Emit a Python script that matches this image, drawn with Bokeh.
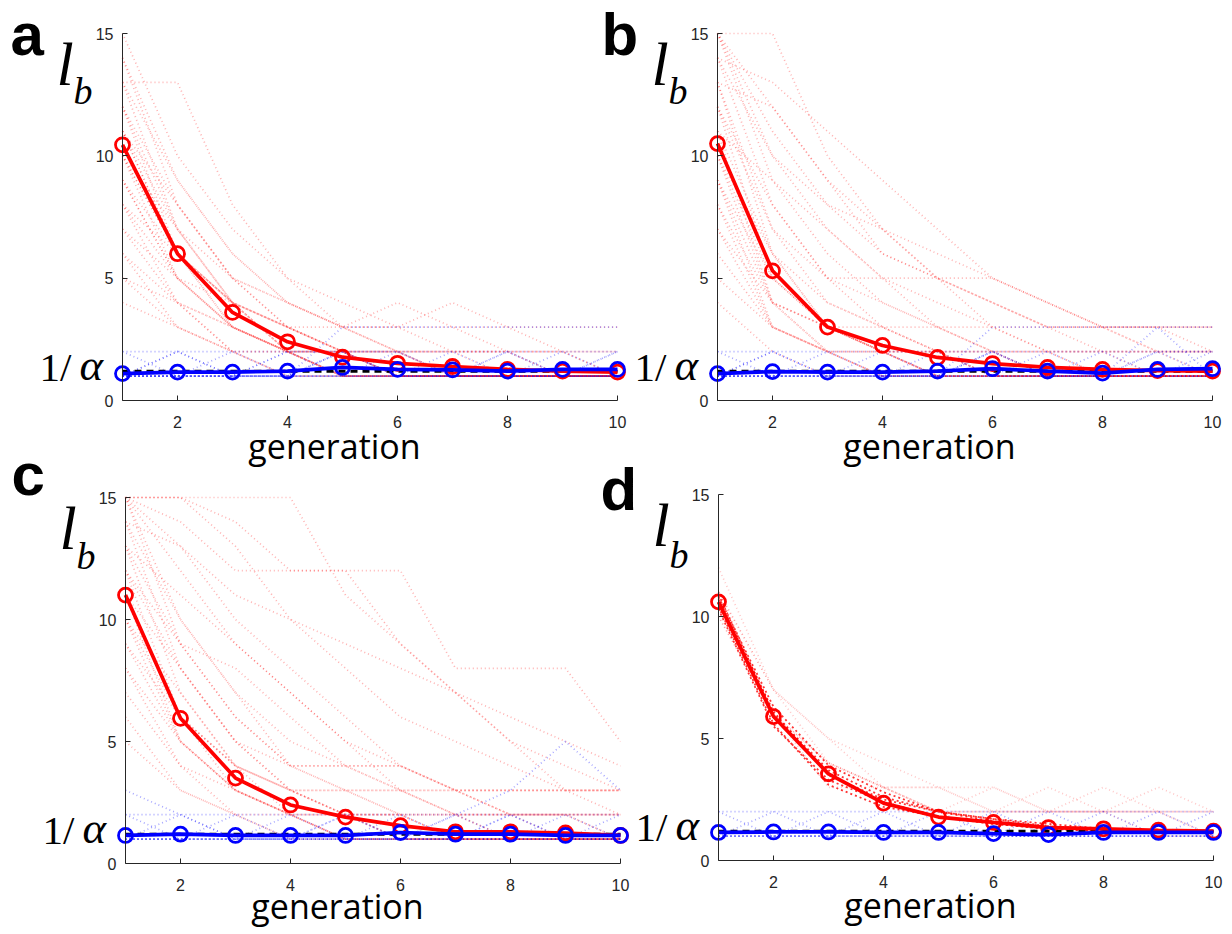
from bokeh.plotting import figure
from bokeh.models import Range1d, Label, FixedTicker, LinearAxis
from bokeh.embed import file_html
from bokeh.resources import INLINE

# ---------------- data ----------------
generations = [1, 2, 3, 4, 5, 6, 7, 8, 9, 10]
inv_alpha = 1.2
y_ticks = [0, 5, 10, 15]
x_ticks = [2, 4, 6, 8, 10]
panel_letters = ["a", "b", "c", "d"]
x_label = "generation"

mean_red_a = [10.45, 6.0, 3.6, 2.4, 1.77, 1.52, 1.39, 1.27, 1.2, 1.16]
mean_blue_a = [1.1, 1.16, 1.16, 1.2, 1.35, 1.27, 1.25, 1.2, 1.27, 1.27]
mean_red_b = [10.5, 5.3, 3.0, 2.25, 1.76, 1.51, 1.35, 1.27, 1.22, 1.2]
mean_blue_b = [1.1, 1.18, 1.16, 1.16, 1.2, 1.3, 1.2, 1.12, 1.27, 1.3]
mean_red_c = [11.0, 5.95, 3.5, 2.4, 1.9, 1.55, 1.3, 1.3, 1.25, 1.15]
mean_blue_c = [1.15, 1.2, 1.15, 1.15, 1.15, 1.27, 1.2, 1.2, 1.15, 1.15]
mean_red_d = [10.6, 5.9, 3.55, 2.35, 1.78, 1.56, 1.35, 1.3, 1.24, 1.2]
mean_blue_d = [1.15, 1.17, 1.17, 1.15, 1.15, 1.1, 1.06, 1.15, 1.15, 1.15]

runs_red_a = [
    [15, 10, 7, 5, 3, 2, 1, 1, 1, 1], [14, 9, 6, 4, 3, 2, 2, 1, 1, 1],
    [14, 8, 5, 3, 2, 1, 1, 1, 1, 1], [13, 13, 8, 5, 4, 3, 2, 2, 1, 1],
    [13, 7, 4, 3, 2, 2, 1, 1, 1, 1], [12, 8, 5, 3, 2, 1, 1, 1, 1, 1],
    [12, 6, 4, 2, 2, 1, 1, 1, 1, 1], [12, 7, 4, 3, 2, 2, 2, 2, 2, 1],
    [11, 7, 5, 4, 3, 4, 3, 2, 2, 1], [11, 6, 4, 2, 1, 1, 1, 1, 1, 1],
    [11, 6, 3, 2, 2, 1, 1, 1, 1, 1], [11, 8, 5, 4, 3, 3, 4, 3, 3, 3],
    [10, 6, 4, 2, 2, 1, 1, 1, 1, 1], [10, 5, 3, 2, 1, 1, 1, 1, 1, 1],
    [10, 7, 4, 3, 2, 2, 1, 1, 1, 1], [10, 6, 3, 2, 2, 2, 2, 2, 2, 2],
    [9, 6, 4, 3, 2, 1, 1, 1, 1, 1], [9, 5, 3, 2, 1, 1, 1, 1, 1, 1],
    [9, 5, 4, 3, 3, 3, 3, 3, 2, 2], [8, 5, 3, 2, 2, 1, 1, 1, 1, 1],
    [8, 4, 3, 2, 1, 1, 1, 1, 1, 1], [8, 6, 4, 2, 2, 2, 1, 1, 1, 1],
    [7, 5, 3, 2, 1, 1, 1, 1, 1, 1], [7, 4, 2, 2, 1, 1, 1, 1, 1, 1],
    [6, 4, 3, 2, 1, 1, 1, 1, 1, 1], [6, 3, 2, 1, 1, 1, 1, 1, 1, 1],
    [5, 4, 2, 2, 1, 1, 1, 1, 1, 1], [5, 3, 2, 1, 1, 1, 1, 1, 1, 1],
    [4, 3, 2, 1, 1, 1, 1, 1, 1, 1], [13, 9, 6, 4, 3, 2, 2, 2, 1, 1],
]
runs_blue_a = [
    [1, 1, 1, 1, 2, 1, 1, 1, 1, 1], [2, 2, 2, 2, 2, 2, 2, 2, 2, 2],
    [1, 2, 1, 1, 1, 2, 1, 1, 1, 1], [1, 1, 1, 2, 1, 1, 1, 2, 1, 2],
    [1, 1, 2, 1, 1, 1, 2, 1, 1, 1], [1, 1, 1, 1, 3, 3, 3, 3, 3, 3],
    [1, 1, 1, 1, 1, 1, 1, 1, 2, 1], [2, 1, 1, 1, 1, 1, 1, 1, 1, 1],
    [1, 1, 1, 1, 2, 2, 1, 1, 1, 1], [1, 2, 1, 1, 2, 1, 1, 2, 1, 1],
    [1, 1, 1, 2, 2, 1, 1, 1, 1, 2],
]
runs_red_b = [
    [15, 15, 10, 7, 5, 4, 3, 3, 2, 2], [15, 12, 9, 6, 5, 4, 3, 2, 2, 1],
    [15, 10, 7, 5, 3, 2, 2, 1, 1, 1], [15, 9, 6, 4, 3, 2, 1, 1, 1, 1],
    [14, 10, 8, 6, 5, 5, 4, 3, 3, 3], [14, 8, 5, 3, 2, 1, 1, 1, 1, 1],
    [13, 12, 9, 7, 5, 3, 2, 2, 1, 1], [13, 7, 4, 3, 2, 2, 1, 1, 1, 1],
    [13, 6, 3, 2, 1, 1, 1, 1, 1, 1], [12, 8, 5, 4, 3, 2, 2, 1, 1, 1],
    [12, 5, 3, 2, 2, 1, 1, 1, 1, 1], [12, 7, 5, 5, 5, 4, 3, 3, 3, 3],
    [11, 6, 3, 2, 1, 1, 1, 1, 1, 1], [11, 4, 3, 2, 2, 2, 1, 1, 1, 1],
    [11, 9, 7, 5, 4, 3, 2, 2, 2, 2], [10, 5, 3, 2, 1, 1, 1, 1, 1, 1],
    [10, 4, 3, 3, 3, 3, 3, 3, 3, 3], [10, 6, 4, 3, 2, 1, 1, 1, 1, 1],
    [9, 4, 2, 2, 1, 1, 1, 1, 1, 1], [9, 5, 3, 2, 2, 1, 1, 1, 1, 1],
    [9, 3, 2, 1, 1, 1, 1, 1, 1, 1], [8, 4, 3, 2, 1, 1, 1, 1, 1, 1],
    [8, 3, 2, 2, 2, 2, 2, 2, 2, 2], [7, 4, 2, 1, 1, 1, 1, 1, 1, 1],
    [7, 3, 2, 2, 1, 1, 1, 1, 1, 1], [6, 3, 2, 1, 1, 1, 1, 1, 1, 1],
    [5, 3, 2, 1, 1, 1, 1, 1, 1, 1], [4, 2, 1, 1, 1, 1, 1, 1, 1, 1],
    [15, 11, 8, 7, 6, 5, 4, 3, 3, 2], [14, 13, 11, 9, 7, 5, 4, 3, 2, 2],
]
runs_blue_b = [
    [1, 1, 1, 1, 1, 2, 1, 1, 1, 1], [2, 2, 2, 2, 2, 2, 2, 2, 2, 2],
    [1, 2, 1, 1, 1, 1, 2, 1, 1, 1], [1, 1, 1, 1, 2, 1, 1, 2, 1, 2],
    [1, 1, 2, 1, 1, 2, 1, 1, 2, 1], [1, 1, 1, 1, 1, 3, 3, 3, 3, 3],
    [2, 1, 1, 1, 1, 1, 1, 1, 1, 1], [1, 2, 1, 1, 1, 2, 1, 1, 1, 1],
    [1, 1, 1, 2, 1, 1, 1, 1, 2, 2], [1, 1, 1, 1, 1, 1, 1, 1, 3, 1],
]
runs_red_c = [
    [15, 15, 14, 12, 12, 12, 8, 8, 8, 5], [15, 15, 15, 15, 11, 9, 7, 5, 4, 3],
    [15, 14, 12, 12, 12, 9, 7, 5, 3, 2], [15, 12, 9, 7, 5, 4, 3, 3, 3, 3],
    [15, 10, 7, 4, 4, 4, 3, 2, 2, 1], [15, 9, 6, 4, 3, 2, 2, 1, 1, 1],
    [14, 13, 10, 8, 6, 4, 3, 2, 2, 2], [14, 8, 5, 3, 2, 1, 1, 1, 1, 1],
    [14, 10, 7, 5, 4, 3, 2, 1, 1, 1], [13, 9, 6, 4, 4, 4, 3, 3, 3, 3],
    [13, 7, 4, 3, 2, 2, 1, 1, 1, 1], [13, 11, 9, 7, 5, 3, 2, 2, 2, 2],
    [12, 8, 5, 3, 2, 2, 1, 1, 1, 1], [12, 6, 4, 3, 3, 3, 3, 3, 3, 3],
    [12, 9, 8, 6, 4, 3, 2, 2, 1, 1], [11, 6, 3, 2, 1, 1, 1, 1, 1, 1],
    [11, 8, 5, 4, 3, 2, 2, 2, 2, 2], [11, 5, 3, 2, 2, 1, 1, 1, 1, 1],
    [10, 6, 4, 2, 2, 1, 1, 1, 1, 1], [10, 7, 4, 3, 3, 3, 3, 2, 2, 1],
    [10, 5, 3, 2, 1, 1, 1, 1, 1, 1], [9, 5, 3, 2, 1, 1, 1, 1, 1, 1],
    [9, 6, 4, 3, 2, 2, 1, 1, 1, 1], [8, 4, 3, 2, 1, 1, 1, 1, 1, 1],
    [8, 5, 3, 2, 2, 2, 2, 2, 2, 2], [7, 4, 2, 2, 1, 1, 1, 1, 1, 1],
    [6, 3, 2, 1, 1, 1, 1, 1, 1, 1], [5, 3, 2, 1, 1, 1, 1, 1, 1, 1],
    [15, 13, 11, 10, 9, 8, 7, 6, 5, 4], [15, 15, 13, 10, 8, 6, 5, 4, 3, 3],
]
runs_blue_c = [
    [2, 2, 2, 2, 2, 2, 2, 2, 2, 2], [1, 1, 1, 1, 1, 1, 2, 3, 5, 3],
    [1, 2, 1, 1, 1, 1, 1, 1, 1, 1], [2, 1, 1, 1, 2, 1, 1, 1, 1, 1],
    [1, 1, 1, 2, 1, 1, 2, 1, 2, 1], [1, 1, 2, 1, 1, 2, 1, 2, 1, 2],
    [3, 2, 1, 1, 1, 1, 1, 1, 1, 1], [1, 1, 1, 1, 2, 1, 1, 1, 1, 1],
    [1, 1, 1, 1, 1, 1, 1, 2, 1, 1],
]
runs_red_d_faint = [
    [12, 7, 5, 3, 3, 2, 2, 2, 2, 2], [11, 7, 4, 3, 3, 3, 2, 2, 1, 1],
    [11, 6, 4, 3, 2, 3, 2, 2, 2, 1], [10, 6, 4, 3, 2, 2, 3, 2, 2, 1],
    [11, 6, 4, 3, 2, 2, 2, 3, 2, 2], [10, 6, 3, 3, 2, 2, 2, 2, 3, 2],
    [11, 7, 5, 4, 3, 2, 2, 2, 2, 2],
]
runs_red_d_dark = [
    [10.8, 6.3, 3.9, 2.8, 2.0, 1.6, 1.4, 1.3, 1.2, 1.2],
    [10.4, 5.6, 3.1, 2.2, 1.8, 1.5, 1.3, 1.2, 1.2, 1.2],
    [10.9, 6.0, 3.7, 2.6, 2.0, 1.7, 1.5, 1.3, 1.2, 1.2],
    [10.3, 5.5, 3.3, 2.4, 1.8, 1.5, 1.3, 1.2, 1.2, 1.1],
    [10.7, 6.1, 3.5, 2.5, 2.0, 1.7, 1.4, 1.3, 1.2, 1.2],
]
runs_blue_d = [
    [2, 2, 2, 2, 2, 2, 2, 2, 2, 2], [1, 2, 1, 1, 1, 1, 1, 1, 1, 1],
    [1, 1, 1, 1, 1, 2, 1, 2, 1, 2], [1, 1, 1, 1, 1, 1, 2, 1, 2, 1],
    [2, 1, 2, 1, 1, 1, 1, 1, 1, 1], [1, 1, 1, 2, 1, 1, 1, 1, 1, 1],
    [1, 1, 1, 1, 2, 1, 1, 1, 1, 1],
]

# ---------------- geometry (page pixels; the canvas sits at the page origin) ----------------
CX0, CX1, CY0, CY1 = 0, 1228, 0, 930
XS = 55.0
AX = "#262626"
BASE_SHIFT = 0.38   # label anchor correction, in em

# (x pixel of generation 1, y pixel of value 0, px per unit of l_b)
panels = {
    "a": (122, 400, 367 / 15.0),
    "b": (717, 400, 367 / 15.0),
    "c": (125, 863, 366 / 15.0),
    "d": (718, 860, 366 / 15.0),
}


def xr(x1):
    return Range1d(1 + (CX0 - x1) / XS, 1 + (CX1 - x1) / XS)


def yr(y0, ys):
    return Range1d((y0 - CY1) / ys, (y0 - CY0) / ys)


ga = panels["a"]
p = figure(width=CX1 - CX0, height=CY1 - CY0, output_backend="svg", toolbar_location=None,
           x_range=xr(ga[0]), y_range=yr(ga[1], ga[2]),
           x_axis_type=None, y_axis_type=None,
           min_border_left=0, min_border_right=0, min_border_top=0, min_border_bottom=0)
p.outline_line_color = None
p.grid.visible = False
p.background_fill_color = "white"
p.border_fill_color = "white"

names = {}
for k, (x1, y0, ys) in panels.items():
    if k == "a":
        names[k] = ("default", "default")
        continue
    xn = "x_" + k
    yn = "y_" + k
    p.extra_x_ranges[xn] = xr(x1)
    p.extra_y_ranges[yn] = yr(y0, ys)
    names[k] = (xn, yn)


def style_axis(ax):
    ax.axis_line_color = AX
    ax.axis_line_width = 1
    ax.major_tick_line_color = AX
    ax.major_tick_in = 5
    ax.major_tick_out = 0
    ax.minor_tick_line_color = None
    ax.major_label_text_font = "Liberation Sans"
    ax.major_label_text_font_size = "16px"
    ax.major_label_text_color = AX


for k in panels:
    xn, yn = names[k]
    xa = LinearAxis(x_range_name=xn, y_range_name=yn, fixed_location=0, bounds=(1, 10),
                    ticker=FixedTicker(ticks=x_ticks), major_label_standoff=15)
    ya = LinearAxis(x_range_name=xn, y_range_name=yn, fixed_location=1, bounds=(0, 15),
                    ticker=FixedTicker(ticks=y_ticks), major_label_standoff=9)
    style_axis(xa)
    style_axis(ya)
    p.add_layout(xa, "below")
    p.add_layout(ya, "left")


def runs(k, data, color, alpha, width=1.7, dash="1 3"):
    xn, yn = names[k]
    p.multi_line(xs=[generations] * len(data), ys=data, line_color=color, line_alpha=alpha,
                 line_width=width, line_dash=dash, x_range_name=xn, y_range_name=yn)


def means(k, mean_red, mean_blue):
    xn, yn = names[k]
    kw = dict(x_range_name=xn, y_range_name=yn)
    p.line(generations, [inv_alpha] * len(generations), line_color="black", line_width=3,
           line_dash="7 5", **kw)
    p.line(generations, mean_red, line_color="red", line_width=3.7, **kw)
    p.scatter(generations, mean_red, marker="circle", size=14, line_color="red",
              fill_color=None, line_width=2.8, **kw)
    p.line(generations, mean_blue, line_color="blue", line_width=3.7, **kw)
    p.scatter(generations, mean_blue, marker="circle", size=14, line_color="blue",
              fill_color=None, line_width=2.8, **kw)


runs("a", runs_red_a, "red", 0.3)
runs("a", runs_blue_a, "blue", 0.35)
runs("b", runs_red_b, "red", 0.3)
runs("b", runs_blue_b, "blue", 0.35)
runs("c", runs_red_c, "red", 0.3)
runs("c", runs_blue_c, "blue", 0.35)
runs("d", runs_red_d_faint, "red", 0.22)
runs("d", runs_blue_d, "blue", 0.35)
runs("d", runs_red_d_dark, "red", 0.8, width=1.8, dash="2 3")

means("a", mean_red_a, mean_blue_a)
means("b", mean_red_b, mean_blue_b)
means("c", mean_red_c, mean_blue_c)
means("d", mean_red_d, mean_blue_d)


def add_label(k, px, py, text, font, size_px, style="normal", align="left"):
    x1, y0, ys = panels[k]
    xn, yn = names[k]
    py = py - BASE_SHIFT * size_px
    p.add_layout(Label(x=1 + (px - x1) / XS, y=(y0 - py) / ys, text=text,
                       x_range_name=xn, y_range_name=yn,
                       text_font=font, text_font_size=f"{size_px}px", text_font_style=style,
                       text_align=align, text_baseline="alphabetic", text_color="black"))


# baselines / left edges of the texts on the page
letter_pos = {"a": (10, 57), "b": (601, 57), "c": (11, 497), "d": (600, 512)}
sub_dy = {"a": 72, "b": 72, "c": 73, "d": 75}
gen_dy = {"a": 58, "b": 58, "c": 55, "d": 57}

for k, letter in zip(panels, panel_letters):
    x1, y0, ys = panels[k]
    top = y0 - 15 * ys
    add_label(k, letter_pos[k][0], letter_pos[k][1], letter, "Liberation Sans", 60, "bold")
    add_label(k, x1 - 66, top + 54, "l", "Liberation Serif", 62, "italic")
    add_label(k, x1 - 49, top + sub_dy[k], "b", "Liberation Serif", 38, "italic")
    add_label(k, x1 - 83, y0 - 18, "1/", "Liberation Serif", 41)
    add_label(k, x1 - 43, y0 - 18, "\u03b1", "Liberation Serif", 45, "italic")
    add_label(k, x1 + 212, y0 + gen_dy[k], x_label, "Open Sans", 34, align="center")

open("out.html", "w").write(file_html(p, INLINE))
